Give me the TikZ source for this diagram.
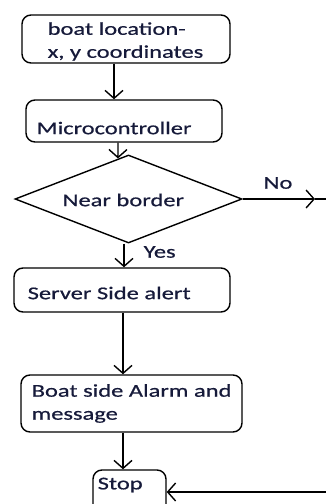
\documentclass[tikz,border=0pt]{standalone}
\usepackage{fontspec}
\setmainfont{Carlito}[FakeStretch=1.36,FakeBold=0.6]
\usetikzlibrary{shapes.geometric,arrows.meta,calc}
\definecolor{txt}{RGB}{22,26,58}
\begin{document}
\begin{tikzpicture}[x=0.5pt,y=-0.5pt, line width=0.7pt,
  box/.style={draw, rounded corners=4.5pt, inner sep=0pt},
  dia/.style={draw, diamond, inner sep=0pt, shape aspect=2.58},
  arr/.style={-{Straight Barb[length=4pt,width=9pt]}},
  lbl/.style={font=\fontsize{9}{11.5}\selectfont, text=txt, inner sep=0pt, align=left, anchor=west}]
\clip (0,0) rectangle (326,504);
% boxes
\node[box, minimum width=104pt, minimum height=24pt] (b1) at (126,39) {};
\node[box, minimum width=98pt, minimum height=21pt] (b2) at (124,121) {};
\node[dia, minimum width=113.5pt, minimum height=44pt] (d) at (128.5,199) {};
\node[box, minimum width=108pt, minimum height=22pt] (b3) at (122,290) {};
\node[box, minimum width=110.5pt, minimum height=28.5pt] (b4) at (131.5,403.5) {};
\node[box, minimum width=36.5pt, minimum height=30pt] (stop) at (129.5,500) {};
% labels
\node[lbl] (t1) at (47,41.5) {boat location-\\x, y coordinates};
\node[lbl] (t2) at (36,128) {Microcontroller};
\node[lbl] (td) at (62,200) {Near border};
\node[lbl] (t3) at (27,293) {Server Side alert};
\node[lbl] (t4) at (31,403.5) {Boat side Alarm and\\message};
\node[lbl] (ts) at (97,485) {Stop};
\node[lbl] (tno) at (263,183) {No};
\node[lbl] (tyes) at (143,252) {Yes};
% connectors
\draw[arr] (b1.south -| 114,0) -- (b2.north -| 114,0);
\draw[arr] (b2.south -| 118,0) -- ($(d.west)!0.9075!(d.north)$);
\coordinate (noend) at (d.east -| 315,0);
\coordinate (noedge) at (d.east -| 326,0);
\draw[arr] (d.east) -- (noend);
\draw (noend) -- (noedge);
\draw[arr] (d.south -| 124,0) -- (b3.north -| 124,0);
\draw[arr] (b3.south -| 123,0) -- (b4.north -| 123,0);
\draw[arr] (b4.south -| 123,0) -- (stop.north -| 123,0);
\coordinate (sright) at (326,492);
\draw[arr] (sright) -- (sright -| stop.east);
\end{tikzpicture}
\end{document}
